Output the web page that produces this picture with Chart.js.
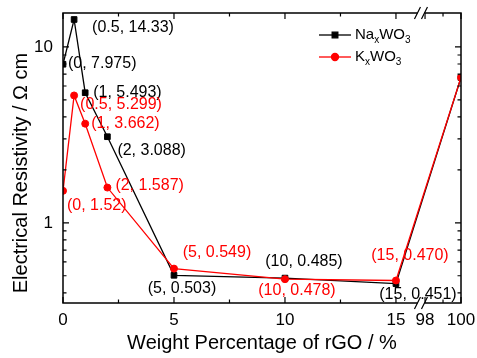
<!DOCTYPE html>
<html lang="en">
<head>
<meta charset="UTF-8" />
<title>Electrical Resistivity vs rGO</title>
<style>
  html, body { margin: 0; padding: 0; background: #fff; }
  #chartBox { width: 477px; height: 358px; }
</style>
</head>
<body>
<div id="chartBox"><canvas id="resChart"></canvas></div>
<script src="https://cdn.jsdelivr.net/npm/chart.js"></script>
<script>
  // rGO weight percentage for each measured point
  const rgoPercent = [0, 0.5, 1, 2, 5, 10, 15, 100];
  // resistivity, ohm cm
  const naValues = [7.975, 14.33, 5.493, 3.088, 0.503, 0.485, 0.451, 6.7];
  const kValues = [1.52, 5.299, 3.662, 1.587, 0.549, 0.478, 0.470, 6.7];
  // value labels printed next to the points (none for 100 %)
  const naLabels = ['(0, 7.975)', '(0.5, 14.33)', '(1, 5.493)', '(2, 3.088)', '(5, 0.503)', '(10, 0.485)', '(15, 0.451)', ''];
  const kLabels = ['(0, 1.52)', '(0.5, 5.299)', '(1, 3.662)', '(2, 1.587)', '(5, 0.549)', '(10, 0.478)', '(15, 0.470)', ''];

  const xTickValues = [0, 5, 10, 15, 98, 100];
  const xTickLabels = ['0', '5', '10', '15', '98', '100'];
  const xMinorValues = [2.5, 7.5, 12.5, 99];
  const yTickValues = [1, 10];
  const yTickLabels = ['1', '10'];
  const yMinorValues = [0.4, 0.5, 0.6, 0.7, 0.8, 0.9, 2, 3, 4, 5, 6, 7, 8, 9];

  const FONT = "'Liberation Sans', Arial, sans-serif";

  // broken x axis: 0-15 then 98-100
  const BREAK_FROM = 15, BREAK_TO = 98, BREAK_GAP = 1.31, RIGHT_SCALE = 0.81;
  function axisX(v) {
    return v <= BREAK_FROM ? v : BREAK_FROM + BREAK_GAP + (v - BREAK_TO) * RIGHT_SCALE;
  }

  // where each value label sits relative to its point [dx, dy, align]
  const naPlacement = [[5, -1, 'left'], [18, 8, 'left'], [8, 0, 'left'], [10, 14, 'left'],
                       [8, 13, 'center'], [19, -16, 'center'], [22, 11, 'center']];
  const kPlacement = [[4, 15, 'left'], [6, 9, 'left'], [6, 0, 'left'], [8, -2, 'left'],
                      [43, -16, 'center'], [12, 11, 'center'], [14, -25, 'center']];

  function drawSubText(ctx, parts, x, y, color) {
    // parts: [text, isSub]
    ctx.fillStyle = color;
    ctx.textAlign = 'left';
    ctx.textBaseline = 'middle';
    parts.forEach(([t, sub]) => {
      ctx.font = (sub ? '10px ' : '15px ') + FONT;
      ctx.fillText(t, x, sub ? y + 5 : y);
      x += ctx.measureText(t).width;
    });
  }

  const framePlugin = {
    id: 'frame',
    afterDraw(chart) {
      const ctx = chart.ctx;
      const { left, right, top, bottom } = chart.chartArea;
      const xs = chart.scales.x, ys = chart.scales.y;
      ctx.save();

      // frame
      ctx.strokeStyle = '#000';
      ctx.lineWidth = 1.5;
      ctx.strokeRect(left, top, right - left, bottom - top);

      // inward ticks on all four sides
      ctx.lineWidth = 1.2;
      ctx.beginPath();
      const xt = (v, len) => {
        const px = xs.getPixelForValue(axisX(v));
        ctx.moveTo(px, bottom); ctx.lineTo(px, bottom - len);
        ctx.moveTo(px, top); ctx.lineTo(px, top + len);
      };
      const yt = (v, len) => {
        const py = ys.getPixelForValue(v);
        ctx.moveTo(left, py); ctx.lineTo(left + len, py);
        ctx.moveTo(right, py); ctx.lineTo(right - len, py);
      };
      xTickValues.forEach(v => xt(v, 6));
      xMinorValues.forEach(v => xt(v, 3.5));
      yTickValues.forEach(v => yt(v, 6));
      yMinorValues.forEach(v => yt(v, 3.5));
      ctx.stroke();

      // axis break marks
      const bx = xs.getPixelForValue(BREAK_FROM + BREAK_GAP * 0.86);
      [bottom, top].forEach(by => {
        ctx.fillStyle = '#fff';
        ctx.fillRect(bx - 3.5, by - 1.5, 7, 3);
        ctx.beginPath();
        [-3.5, 3.5].forEach(o => {
          ctx.moveTo(bx + o - 3, by + 6);
          ctx.lineTo(bx + o + 3, by - 6);
        });
        ctx.lineWidth = 1.2;
        ctx.stroke();
      });

      // value labels
      ctx.font = '16px ' + FONT;
      ctx.textBaseline = 'middle';
      const labelSet = (labels, values, place, color) => {
        ctx.fillStyle = color;
        labels.forEach((t, i) => {
          if (!t) return;
          const px = xs.getPixelForValue(axisX(rgoPercent[i]));
          const py = ys.getPixelForValue(values[i]);
          const [dx, dy, align] = place[i];
          ctx.textAlign = align;
          ctx.fillText(t, px + dx, py + dy);
        });
      };
      labelSet(naLabels, naValues, naPlacement, '#000');
      labelSet(kLabels, kValues, kPlacement, '#f00');

      // legend
      const lx = left + 256;
      chart.data.datasets.forEach((ds, i) => {
        const ly = top + 22 + i * 22;
        ctx.strokeStyle = ds.borderColor;
        ctx.fillStyle = ds.backgroundColor;
        ctx.lineWidth = ds.borderWidth;
        ctx.beginPath();
        ctx.moveTo(lx, ly); ctx.lineTo(lx + 32, ly);
        ctx.stroke();
        Chart.helpers.drawPoint(ctx, { pointStyle: ds.pointStyle, radius: ds.pointRadius, borderWidth: 1, rotation: 0 }, lx + 16, ly);
        drawSubText(ctx, ds.legendParts, lx + 36, ly, '#000');
      });

      // y axis title
      ctx.save();
      ctx.translate(21, 173);
      ctx.rotate(-Math.PI / 2);
      ctx.font = '20px ' + FONT;
      ctx.fillStyle = '#000';
      ctx.textAlign = 'center';
      ctx.textBaseline = 'middle';
      ctx.fillText('Electrical Resistivity / \u03A9 cm', 0, 0);
      ctx.restore();

      ctx.restore();
    }
  };

  const noScalePadding = s => {
    s.paddingLeft = 0; s.paddingRight = 0; s.paddingTop = 0; s.paddingBottom = 0;
  };

  const ctx = document.getElementById('resChart').getContext('2d');
  new Chart(ctx, {
    type: 'line',
    data: {
      datasets: [
        {
          label: 'NaxWO3',
          legendParts: [['Na', false], ['x', true], ['WO', false], ['3', true]],
          data: rgoPercent.map((v, i) => ({ x: axisX(v), y: naValues[i] })),
          borderColor: '#000',
          backgroundColor: '#000',
          borderWidth: 1.3,
          pointStyle: 'rect',
          pointRadius: 4,
          pointBorderWidth: 1,
          clip: 0,
          order: 2
        },
        {
          label: 'KxWO3',
          legendParts: [['K', false], ['x', true], ['WO', false], ['3', true]],
          data: rgoPercent.map((v, i) => ({ x: axisX(v), y: kValues[i] })),
          borderColor: '#f00',
          backgroundColor: '#f00',
          borderWidth: 1.3,
          pointStyle: 'circle',
          pointRadius: 3.5,
          pointBorderWidth: 1,
          clip: 0,
          order: 1
        }
      ]
    },
    options: {
      responsive: true,
      maintainAspectRatio: false,
      animation: false,
      devicePixelRatio: 1,
      layout: { padding: { top: 13, right: 16, left: 0, bottom: 0 } },
      plugins: { legend: { display: false }, tooltip: { enabled: false } },
      scales: {
        x: {
          type: 'linear',
          min: 0,
          max: axisX(100),
          grid: { display: false, drawTicks: false },
          border: { display: false },
          afterBuildTicks: s => { s.ticks = xTickValues.map(v => ({ value: axisX(v) })); },
          afterFit: s => { s.height = 55; noScalePadding(s); },
          ticks: {
            autoSkip: false,
            maxRotation: 0,
            padding: 7,
            color: '#000',
            font: { family: FONT, size: 17 },
            callback: (v, i) => xTickLabels[i]
          },
          title: {
            display: true,
            text: 'Weight Percentage of rGO / %',
            color: '#000',
            font: { family: FONT, size: 20 },
            padding: { top: 0, bottom: 3 }
          }
        },
        y: {
          type: 'logarithmic',
          min: 0.35,
          max: 15.6,
          grid: { display: false, drawTicks: false },
          border: { display: false },
          afterBuildTicks: s => { s.ticks = yTickValues.map(v => ({ value: v })); },
          afterFit: s => { s.width = 63; noScalePadding(s); },
          ticks: {
            autoSkip: false,
            padding: 10,
            color: '#000',
            font: { family: FONT, size: 17 },
            callback: (v, i) => yTickLabels[i]
          }
        }
      }
    },
    plugins: [framePlugin]
  });
</script>
</body>
</html>
